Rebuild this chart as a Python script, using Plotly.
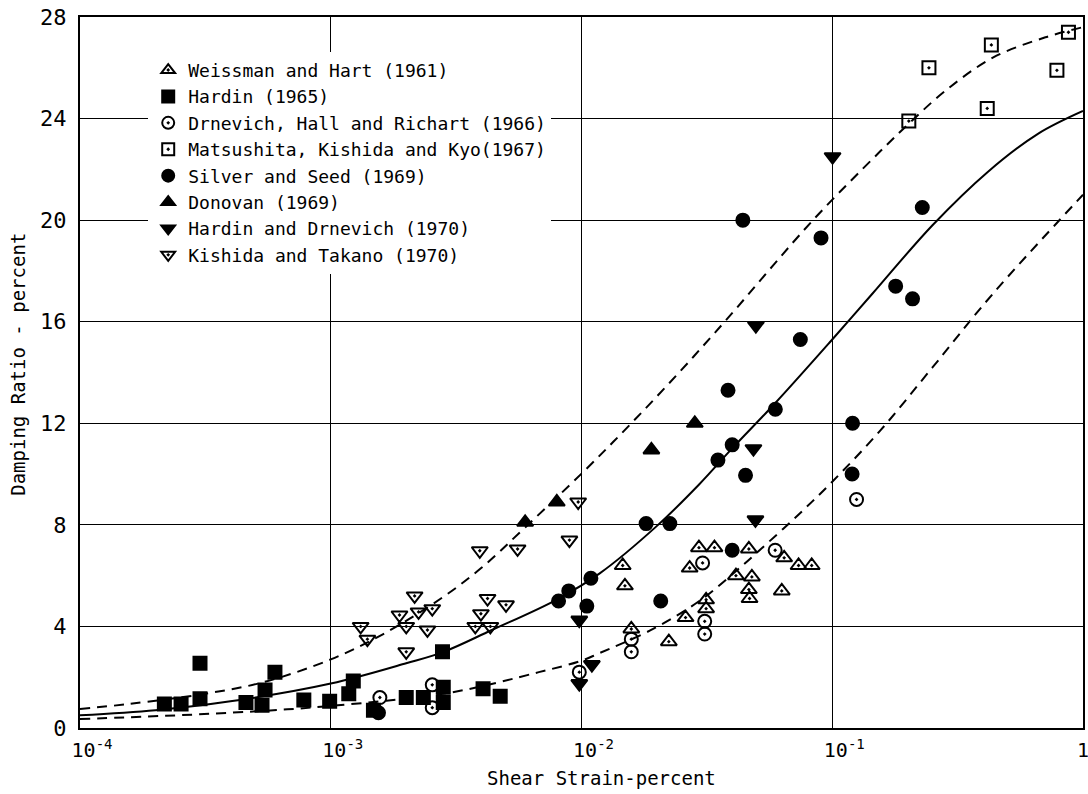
import plotly.graph_objects as go

# ---------------- data ----------------
wh_x = [0.0146, 0.0149, 0.0158, 0.0223, 0.0260, 0.0270, 0.0294, 0.0339, 0.0314, 0.0314,
        0.0465, 0.0413, 0.0478, 0.0465, 0.0468, 0.0629, 0.0643, 0.0734, 0.0828]
wh_y = [6.4, 5.6, 3.9, 3.4, 4.35, 6.3, 7.1, 7.1, 5.05, 4.7,
        7.05, 6.0, 5.95, 5.45, 5.1, 5.4, 6.7, 6.4, 6.4]

ha_x = [2.17e-4, 2.53e-4, 3.01e-4, 3.01e-4, 4.59e-4, 5.32e-4, 5.47e-4, 5.99e-4, 7.81e-4,
        9.9e-4, 1.18e-3, 1.23e-3, 1.48e-3, 2.0e-3, 2.34e-3, 2.79e-3, 2.81e-3, 2.81e-3,
        4.05e-3, 4.74e-3]
ha_y = [0.95, 0.95, 2.55, 1.15, 1.0, 0.9, 1.5, 2.2, 1.1,
        1.05, 1.35, 1.85, 0.7, 1.2, 1.2, 3.0, 1.6, 1.0,
        1.55, 1.25]

dr_x = [1.57e-3, 2.54e-3, 2.54e-3, 0.0098, 0.0158, 0.0158, 0.0304, 0.031, 0.031, 0.0592, 0.125]
dr_y = [1.2, 1.7, 0.8, 2.2, 3.5, 3.0, 6.5, 4.2, 3.7, 7.0, 9.0]

ma_x = [0.202, 0.243, 0.431, 0.415, 0.875, 0.787]
ma_y = [23.9, 26.0, 26.9, 24.4, 27.4, 25.9]

ss_x = [1.55e-3, 8.1e-3, 8.9e-3, 0.0109, 0.0105, 0.0181, 0.0225, 0.0207, 0.035, 0.0399,
        0.0451, 0.0593, 0.0399, 0.0384, 0.0746, 0.1205, 0.120, 0.044, 0.0902, 0.2286,
        0.179, 0.209]
ss_y = [0.6, 5.0, 5.4, 5.9, 4.8, 8.05, 8.05, 5.0, 10.55, 11.15,
        9.95, 12.55, 7.0, 13.3, 15.3, 12.0, 10.0, 20.0, 19.3, 20.5,
        17.4, 16.9]

do_x = [5.96e-3, 7.97e-3, 0.019, 0.0283]
do_y = [8.1, 8.9, 10.95, 12.0]

hd_x = [9.8e-3, 0.011, 9.8e-3, 0.0485, 0.0494, 0.0496, 0.1003]
hd_y = [4.25, 2.5, 1.75, 11.0, 8.2, 15.85, 22.5]

kt_x = [1.316e-3, 1.40e-3, 1.88e-3, 2.0e-3, 2.16e-3, 2.24e-3, 2.54e-3, 2.43e-3, 2.0e-3,
        3.93e-3, 5.56e-3, 8.95e-3, 9.7e-3, 4.22e-3, 5.0e-3, 3.97e-3, 3.77e-3, 4.33e-3]
kt_y = [4.0, 3.5, 4.45, 4.0, 5.2, 4.57, 4.7, 3.86, 3.0,
        6.98, 7.05, 7.4, 8.9, 5.1, 4.85, 4.5, 4.0, 4.0]

# curves
mid_x = [1e-4, 2.0e-4, 3.98e-4, 1e-3, 2.0e-3, 2.82e-3, 4.37e-3, 7.94e-3, 0.01186, 0.01995,
         0.0295, 0.0398, 0.0593, 0.1, 0.1445, 0.251, 0.417, 0.661, 1.0]
mid_y = [0.5, 0.7, 1.05, 1.75, 2.55, 3.0, 3.85, 5.05, 6.1, 7.95,
         9.6, 11.0, 12.8, 15.3, 17.1, 19.8, 21.9, 23.4, 24.3]

up_x = [1e-4, 1.58e-4, 3.16e-4, 5.37e-4, 1e-3, 1.62e-3, 2.75e-3, 3.98e-3, 5.96e-3, 0.0102,
        0.0158, 0.0245, 0.038, 0.0838, 0.155, 0.202, 0.283, 0.437, 0.708, 1.0]
up_y = [0.75, 0.95, 1.35, 1.8, 2.7, 3.7, 5.1, 6.3, 7.9, 10.1,
        12.0, 14.0, 16.1, 20.0, 22.7, 23.8, 25.1, 26.4, 27.2, 27.6]

lo_x = [1e-4, 3.98e-4, 1e-3, 3.02e-3, 6.76e-3, 0.01, 0.0118, 0.0193, 0.0295, 0.0427, 0.0513,
        0.0733, 0.1, 0.155, 0.251, 0.437, 1.0]
lo_y = [0.35, 0.6, 0.87, 1.4, 2.2, 2.65, 2.95, 3.9, 5.0, 6.3, 7.0,
        8.4, 9.7, 11.7, 14.2, 17.1, 21.0]

NB = "\u00a0\u00a0"
x_tickvals = [1e-4, 1e-3, 1e-2, 1e-1, 1]
x_ticktext = [NB + "10<sup>-4</sup>", NB + "10<sup>-3</sup>", NB + "10<sup>-2</sup>",
              NB + "10<sup>-1</sup>", "1"]
y_tickvals = [0, 4, 8, 12, 16, 20, 24, 28]

# ---------------- figure ----------------
FONT = "DejaVu Sans Mono, DejaVu Sans"
fig = go.Figure()

for cx, cy, dash in [(mid_x, mid_y, "solid"), (up_x, up_y, "10px,7px"), (lo_x, lo_y, "10px,7px")]:
    fig.add_trace(go.Scatter(x=cx, y=cy, mode="lines", showlegend=False, hoverinfo="skip",
                             line=dict(color="black", width=2, dash=dash,
                                       shape="spline", smoothing=1.0)))

series = [
    ("Weissman and Hart (1961)", wh_x, wh_y, "triangle-up-open-dot", 14),
    ("Hardin (1965)", ha_x, ha_y, "square", 13),
    ("Drnevich, Hall and Richart (1966)", dr_x, dr_y, "circle-open-dot", 13),
    ("Matsushita, Kishida and Kyo(1967)", ma_x, ma_y, "square-open-dot", 13),
    ("Silver and Seed (1969)", ss_x, ss_y, "circle", 13),
    ("Donovan (1969)", do_x, do_y, "triangle-up", 14),
    ("Hardin and Drnevich (1970)", hd_x, hd_y, "triangle-down", 14),
    ("Kishida and Takano (1970)", kt_x, kt_y, "triangle-down-open-dot", 14),
]
for name, sx, sy, sym, sz in series:
    fig.add_trace(go.Scatter(
        x=sx, y=sy, mode="markers", name=name,
        marker=dict(symbol=sym, size=sz, color="black",
                    line=dict(color="black", width=2)),
    ))

fig.update_layout(
    width=1088, height=794,
    margin=dict(l=80, r=5, t=17, b=66, autoexpand=False),
    paper_bgcolor="white", plot_bgcolor="white",
    font=dict(family=FONT, size=19, color="black"),
    showlegend=True,
    legend=dict(x=0.068, y=0.951, xanchor="left", yanchor="top",
                bgcolor="white", borderwidth=0,
                font=dict(family=FONT, size=18, color="black"),
                itemsizing="constant"),
    xaxis=dict(type="log", range=[-4, 0], tickvals=x_tickvals, ticktext=x_ticktext,
               showgrid=True, gridcolor="black", gridwidth=1,
               showline=True, linecolor="black", linewidth=2, mirror=True,
               ticks="", zeroline=False, tickfont=dict(size=20), automargin=False,
               ticklabeloverflow="allow", ticklabelstandoff=3),
    yaxis=dict(range=[0, 28], tickvals=y_tickvals,
               showgrid=True, gridcolor="black", gridwidth=1,
               showline=True, linecolor="black", linewidth=2, mirror=True,
               ticks="", zeroline=False, tickfont=dict(size=22), automargin=False,
               ticklabelstandoff=7),
    annotations=[
        dict(text="Damping Ratio - percent", textangle=-90, xref="paper", yref="paper",
             x=-0.062, y=0.512, xanchor="center", yanchor="middle", showarrow=False,
             font=dict(family=FONT, size=19)),
        dict(text="Shear Strain-percent", xref="paper", yref="paper",
             x=0.52, y=-0.07, xanchor="center", yanchor="middle", showarrow=False,
             font=dict(family=FONT, size=19)),
    ],
)

fig.write_html("out.html", config={"displayModeBar": False},
               post_script="document.body.style.margin='0';")
